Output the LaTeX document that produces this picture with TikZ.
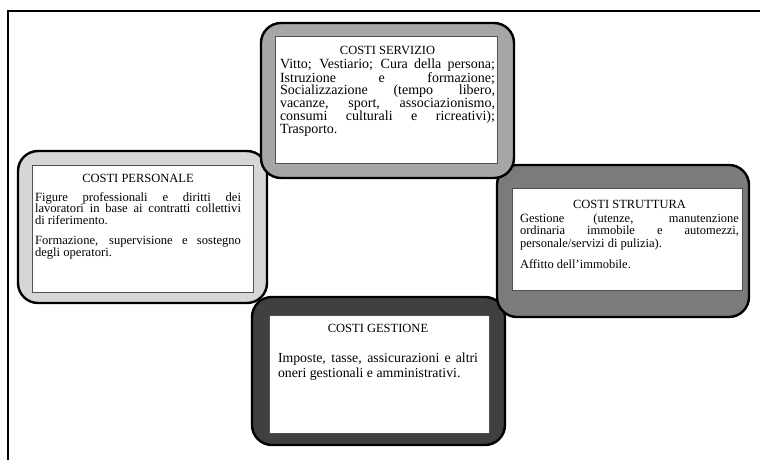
\documentclass[tikz,border=0pt]{standalone}
\usepackage{fontspec}
\setmainfont{Liberation Serif}
\definecolor{cpers}{HTML}{D6D6D6}
\definecolor{cserv}{HTML}{A6A6A6}
\definecolor{cstru}{HTML}{7B7B7B}
\definecolor{cgest}{HTML}{404040}
\definecolor{cline}{HTML}{505050}
\tikzset{
  outerbox/.style={draw=black, line width=2.4pt, rounded corners=20pt},
  innerbox/.style={draw=cline, line width=0.9pt, fill=white},
  txt/.style={anchor=north west, inner sep=0pt, outer sep=0pt, align=justify},
  frameline/.style={draw=black, line width=2.2pt}
}
\newcommand{\ttl}[1]{{\fontsize{12.5}{12}\selectfont\centering #1\par}}
\newcommand{\setup}{\hyphenpenalty10000 \exhyphenpenalty10000 \lineskiplimit=-50pt }
\begin{document}
\begin{tikzpicture}[x=1pt,y=-1pt]
\useasboundingbox[fill=white] (0,0) rectangle (760,460);
\coordinate (ftr) at (770,11);
\coordinate (ftl) at (8,11);
\coordinate (fbl) at (8,470);
\draw[frameline] (ftr) -- (ftl) -- (fbl);

% COSTI GESTIONE
\path[outerbox, fill=cgest] (252,297) rectangle (505,445);
\path[innerbox] (269,315) rectangle (489,433);
\node[txt, text width=200pt, font=\fontsize{13.8}{15}\selectfont] (gest) at (278,324) {%
\setup
\ttl{COSTI GESTIONE}\vskip15pt
Imposte, tasse, assicurazioni e altri\linebreak oneri gestionali e amministrativi.};

% COSTI PERSONALE
\path[outerbox, fill=cpers] (18,151) rectangle (267,303);
\path[innerbox] (32,165) rectangle (253,292);
\node[txt, text width=206pt, font=\fontsize{12.6}{11.6}\selectfont] (pers) at (35,174) {%
\setup
\ttl{COSTI PERSONALE}\vskip7.4pt
Figure professionali e diritti dei\linebreak lavoratori in base ai contratti collettivi\linebreak di riferimento.\par\vskip8.4pt
Formazione, supervisione e sostegno\linebreak degli operatori.};

% COSTI STRUTTURA
\path[outerbox, fill=cstru] (497,165) rectangle (749,317);
\path[innerbox] (512,188) rectangle (742,290);
\node[txt, text width=219pt, font=\fontsize{12.5}{12.7}\selectfont] (stru) at (520,200) {%
\setup
\ttl{COSTI STRUTTURA}\vskip1.3pt
Gestione (utenze, manutenzione\linebreak ordinaria immobile e automezzi,\linebreak personale/servizi di pulizia).\par\vskip8.3pt
Affitto dell’immobile.};

% COSTI SERVIZIO
\path[outerbox, fill=cserv] (261,23) rectangle (514,178);
\path[innerbox] (275,36) rectangle (497,163);
\node[txt, text width=215pt, font=\fontsize{14}{12.8}\selectfont] (serv) at (280,46) {%
\setup
\ttl{COSTI SERVIZIO}\vskip1.2pt
Vitto; Vestiario; Cura della persona;\linebreak Istruzione e formazione;\linebreak Socializzazione (tempo libero,\linebreak vacanze, sport, associazionismo,\linebreak consumi culturali e ricreativi);\linebreak Trasporto.};
\end{tikzpicture}
\end{document}
